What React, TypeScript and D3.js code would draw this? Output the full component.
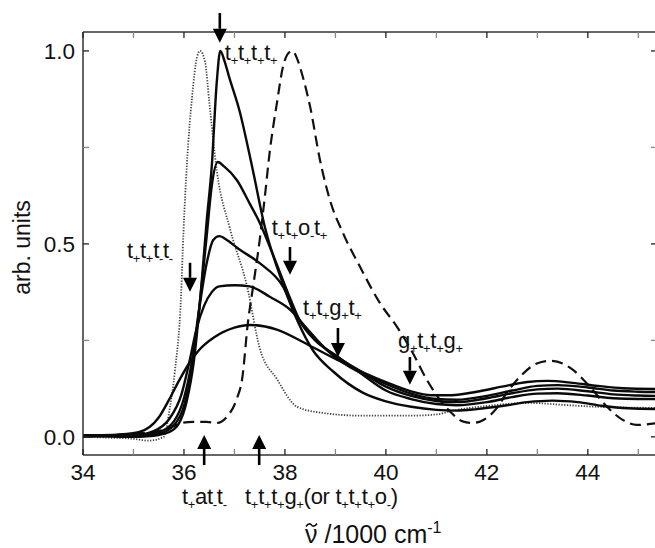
import React from "react";
import * as d3 from "d3";

// Wavenumber (×1000 cm⁻¹) and normalised intensity for each trace
const dottedX = [34, 34.5, 35.0, 35.3, 35.6, 35.72, 35.82, 35.94, 35.99, 36.06, 36.16, 36.26, 36.32, 36.42, 36.5, 36.65, 36.91, 37.25, 37.5, 37.84, 38.24, 38.75, 39.5, 40.5, 41.0, 41.33, 42.0, 42.85, 43.5, 44.18, 45.4];
const dottedY = [0.0, -0.002, -0.005, -0.01, 0.0, 0.075, 0.17, 0.36, 0.53, 0.71, 0.88, 0.985, 1.0, 0.97, 0.87, 0.69, 0.54, 0.39, 0.23, 0.15, 0.078, 0.062, 0.055, 0.055, 0.058, 0.068, 0.08, 0.088, 0.083, 0.078, 0.075];

const dashedX = [34, 34.5, 35, 35.5, 35.75, 35.92, 36.18, 36.45, 36.65, 36.85, 37.05, 37.15, 37.27, 37.37, 37.5, 37.6, 37.7, 37.84, 37.96, 38.1, 38.15, 38.24, 38.36, 38.5, 38.69, 38.89, 39.15, 39.49, 39.88, 40.22, 40.53, 40.81, 41.07, 41.3, 41.52, 41.72, 41.95, 42.2, 42.4, 42.65, 42.99, 43.25, 43.5, 43.7, 44.04, 44.38, 44.69, 44.97, 45.4];
const dashedY = [0.0, 0.004, 0.008, 0.015, 0.025, 0.035, 0.039, 0.039, 0.036, 0.052, 0.1, 0.148, 0.3, 0.39, 0.51, 0.62, 0.74, 0.864, 0.958, 0.998, 1.0, 0.98, 0.93, 0.855, 0.72, 0.614, 0.528, 0.44, 0.347, 0.285, 0.218, 0.148, 0.096, 0.062, 0.04, 0.036, 0.045, 0.075, 0.115, 0.155, 0.19, 0.197, 0.19, 0.174, 0.13, 0.078, 0.044, 0.031, 0.036];

const solidAX = [34, 34.5, 35, 35.4, 35.7, 35.9, 36.05, 36.2, 36.35, 36.45, 36.55, 36.65, 36.72, 36.8, 36.9, 37.1, 37.35, 37.6, 37.95, 38.25, 38.55, 38.95, 39.55, 40.0, 40.5, 41.0, 41.4, 41.8, 42.3, 42.8, 43.3, 43.8, 44.3, 44.8, 45.4];
const solidAY = [0.003, 0.002, 0.0, 0.003, 0.012, 0.035, 0.09, 0.2, 0.4, 0.56, 0.7, 0.92, 1.0, 0.975, 0.93, 0.845, 0.7, 0.545, 0.4, 0.3, 0.225, 0.17, 0.114, 0.092, 0.078, 0.07, 0.068, 0.072, 0.08, 0.09, 0.094, 0.09, 0.08, 0.074, 0.072];

const solidBX = [34, 35, 35.5, 35.8, 36.0, 36.15, 36.3, 36.45, 36.55, 36.67, 36.8, 37.05, 37.3, 37.5, 37.8, 38.1, 38.3, 38.6, 39.0, 39.5, 40.0, 40.5, 41.0, 41.4, 42.0, 42.5, 43.0, 43.4, 44.0, 44.5, 45.0, 45.4];
const solidBY = [0.002, 0.001, 0.008, 0.03, 0.08, 0.17, 0.33, 0.52, 0.65, 0.712, 0.7, 0.665, 0.605, 0.555, 0.46, 0.36, 0.3, 0.25, 0.212, 0.165, 0.12, 0.098, 0.085, 0.082, 0.09, 0.103, 0.112, 0.113, 0.107, 0.1, 0.098, 0.098];

const solidCX = [34, 35, 35.5, 35.8, 36.0, 36.15, 36.3, 36.45, 36.58, 36.7, 36.85, 37.05, 37.5, 37.96, 38.25, 38.5, 39.0, 39.5, 40.0, 40.5, 41.0, 41.4, 42.0, 42.5, 43.0, 43.4, 44.0, 44.5, 45.0, 45.4];
const solidCY = [0.002, 0.002, 0.012, 0.04, 0.1, 0.19, 0.33, 0.45, 0.51, 0.52, 0.51, 0.49, 0.45, 0.39, 0.31, 0.265, 0.21, 0.17, 0.13, 0.106, 0.093, 0.09, 0.1, 0.113, 0.123, 0.125, 0.118, 0.11, 0.107, 0.106];

const solidDX = [34, 35, 35.4, 35.7, 35.95, 36.1, 36.25, 36.4, 36.55, 36.7, 37.0, 37.3, 37.7, 38.1, 38.44, 38.83, 39.3, 39.7, 40.0, 40.5, 41.0, 41.4, 42.0, 42.5, 43.0, 43.4, 44.0, 44.5, 45.0, 45.4];
const solidDY = [0.003, 0.004, 0.015, 0.045, 0.11, 0.19, 0.28, 0.34, 0.375, 0.39, 0.393, 0.39, 0.363, 0.33, 0.28, 0.225, 0.18, 0.155, 0.137, 0.112, 0.098, 0.096, 0.106, 0.12, 0.132, 0.134, 0.128, 0.12, 0.117, 0.116];

const solidEX = [34, 34.6, 35.1, 35.5, 35.72, 35.9, 36.1, 36.3, 36.6, 37.0, 37.3, 37.84, 38.44, 39.03, 39.5, 40.0, 40.5, 40.9, 41.3, 41.8, 42.3, 42.8, 43.2, 43.7, 44.2, 44.7, 45.4];
const solidEY = [0.004, 0.005, 0.012, 0.05, 0.1, 0.145, 0.19, 0.225, 0.258, 0.283, 0.29, 0.278, 0.24, 0.2, 0.17, 0.142, 0.118, 0.108, 0.108, 0.117, 0.13, 0.142, 0.145, 0.14, 0.132, 0.126, 0.124];

// Axis ticks
const xTicks = [34, 35, 36, 37, 38, 39, 40, 41, 42, 43, 44, 45];
const xTickLabels = ["34", "36", "38", "40", "42", "44"];
const yTicks = [0, 0.25, 0.5, 0.75, 1.0];
const yTickLabels = ["0.0", "0.5", "1.0"];

// Conformer annotations: label text ("_" marks a subscript), label anchor, arrow position and direction
const annLabels = ["t_+t_+t_+t_+", "t_+t_+t_-t_-", "t_+t_+o_-t_+", "t_+t_+g_+t_+", "g_+t_+t_+g_+", "t_+at_-t_-", "t_+t_+t_+g_+(or t_+t_+t_+o_-)"];
const annLabelX = [36.81, 34.87, 37.74, 38.36, 40.24, 35.96, 37.21];
const annLabelY = [0.977, 0.464, 0.523, 0.316, 0.231, -0.175, -0.175];
const arrowX = [36.71, 36.12, 38.1, 39.05, 40.475, 36.4, 37.49];
const arrowFrom = [1.098, 0.451, 0.492, 0.282, 0.207, -0.073, -0.073];
const arrowTo = [1.021, 0.376, 0.42, 0.207, 0.135, 0.005, 0.005];

const W = 655;
const H = 548;
const L = 83, R = 657, T = 32, B = 455;

const FONT = "'Liberation Sans', Arial, Helvetica, sans-serif";

function parseLabel(s: string) {
  const segs: { t: string; sub: boolean }[] = [];
  let i = 0;
  while (i < s.length) {
    if (s[i] === "_" && i + 1 < s.length) {
      segs.push({ t: s[i + 1], sub: true });
      i += 2;
    } else {
      const last = segs[segs.length - 1];
      if (last && !last.sub) last.t += s[i];
      else segs.push({ t: s[i], sub: false });
      i += 1;
    }
  }
  return segs;
}

function SubLabel({ x, y, text }: { x: number; y: number; text: string }) {
  const segs = parseLabel(text);
  let level = 0;
  return (
    <text x={x} y={y} fontFamily={FONT} fontSize={22} fill="#111" letterSpacing={-0.3}>
      {segs.map((s, i) => {
        const target = s.sub ? 5 : 0;
        const dy = target - level;
        level = target;
        return (
          <tspan key={i} dy={dy} fontSize={s.sub ? 13 : 22}>
            {s.t}
          </tspan>
        );
      })}
    </text>
  );
}

export default function App() {
  const x = d3.scaleLinear().domain([34, 45.37]).range([L, R]);
  const y = d3.scaleLinear().domain([-0.047, 1.049]).range([B, T]);

  const line = (xs: number[], ys: number[]) =>
    d3
      .line<number>()
      .x((_, i) => x(xs[i]))
      .y((v) => y(v))
      .curve(d3.curveMonotoneX)(ys) || "";

  const solids = [
    [solidAX, solidAY],
    [solidBX, solidBY],
    [solidCX, solidCY],
    [solidDX, solidDY],
    [solidEX, solidEY],
  ];

  const arrowHead = 14;
  const arrowHalf = 7;

  // x-axis title position; tilde is drawn as a small wave over the ν
  const titleX = 305;
  const titleY = 543;
  const tx = titleX + 6.5;
  const ty = 525;

  return (
    <svg
      width={W}
      height={H}
      style={{ position: "absolute", left: 0, top: 0, background: "#fff" }}
    >
      <defs>
        <clipPath id="plotClip">
          <rect x={L} y={T} width={R - L} height={B - T} />
        </clipPath>
      </defs>
      <rect x={0} y={0} width={W} height={H} fill="#fff" />

      <g clipPath="url(#plotClip)" fill="none">
        <path d={line(dottedX, dottedY)} stroke="#444" strokeWidth={1.8} strokeDasharray="1.3 1.5" />
        <path d={line(dashedX, dashedY)} stroke="#111" strokeWidth={2.2} strokeDasharray="11 6" />
        {solids.map(([xs, ys], i) => (
          <path key={i} d={line(xs, ys)} stroke="#0a0a0a" strokeWidth={2.4} strokeLinejoin="round" />
        ))}
      </g>

      {/* frame */}
      <g stroke="#333" strokeWidth={1.5} fill="none">
        <line x1={L} y1={T} x2={R} y2={T} />
        <line x1={L} y1={B} x2={R} y2={B} />
        <line x1={L} y1={T} x2={L} y2={B} />
        <line x1={R} y1={T} x2={R} y2={B} />
      </g>

      {/* x ticks, bottom and top, pointing inward */}
      <g strokeWidth={1.3}>
        {xTicks.map((t) => {
          const major = t % 2 === 0;
          return (
            <g key={t} stroke={major ? "#222" : "#888"}>
              <line x1={x(t)} x2={x(t)} y1={B} y2={B - 6} />
              <line x1={x(t)} x2={x(t)} y1={T} y2={T + 6} />
            </g>
          );
        })}
        {yTicks.map((t, i) => {
          const major = i % 2 === 0;
          return (
            <g key={t} stroke={major ? "#222" : "#888"}>
              <line x1={L} x2={L + 6} y1={y(t)} y2={y(t)} />
              <line x1={R} x2={R - 6} y1={y(t)} y2={y(t)} />
            </g>
          );
        })}
      </g>

      {/* tick labels */}
      <g fontFamily={FONT} fontSize={22.5} fill="#111">
        {xTickLabels.map((l) => (
          <text key={l} x={x(+l)} y={B + 25} textAnchor="middle">
            {l}
          </text>
        ))}
        {yTickLabels.map((l) => (
          <text key={l} x={L - 8} y={y(+l) + 8.5} textAnchor="end">
            {l}
          </text>
        ))}
      </g>

      {/* axis titles */}
      <text
        transform={`translate(30, ${(T + B) / 2 + 4}) rotate(-90)`}
        textAnchor="middle"
        fontFamily={FONT}
        fontSize={23}
        fill="#111"
      >
        arb. units
      </text>
      <text x={titleX} y={titleY} fontSize={25} fontFamily={FONT} fill="#111">
        {"\u03BD /1000 cm"}
        <tspan dy={-10} fontSize={16}>-1</tspan>
      </text>
      <path
        d={`M${tx - 5.5},${ty + 1.5} C${tx - 3},${ty - 2.5} ${tx - 0.5},${ty - 1} ${tx},${ty} S${tx + 3},${ty + 2.5} ${tx + 5.5},${ty - 1.5}`}
        fill="none"
        stroke="#111"
        strokeWidth={1.6}
      />

      {/* conformer annotations */}
      {annLabels.map((lab, i) => (
        <SubLabel key={lab} x={x(annLabelX[i])} y={y(annLabelY[i])} text={lab} />
      ))}
      {arrowX.map((ax, i) => {
        const px = x(ax);
        const y0 = y(arrowFrom[i]);
        const y1 = y(arrowTo[i]);
        const dir = y1 > y0 ? 1 : -1;
        const base = y1 - dir * arrowHead;
        return (
          <g key={i}>
            <line x1={px} x2={px} y1={y0} y2={base} stroke="#000" strokeWidth={2.6} />
            <polygon
              points={`${px - arrowHalf},${base} ${px + arrowHalf},${base} ${px},${y1}`}
              fill="#000"
            />
          </g>
        );
      })}
    </svg>
  );
}
